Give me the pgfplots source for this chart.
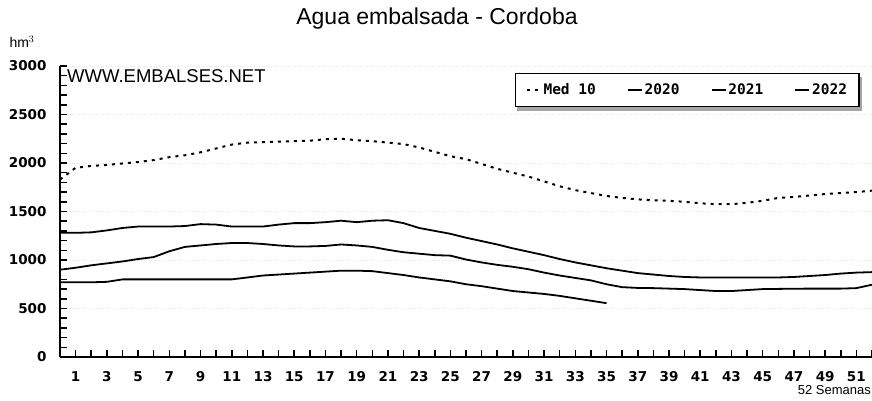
\documentclass[border=0pt]{standalone}
\usepackage{fontspec}
\setmainfont{Liberation Sans}
\newfontfamily\tickfont{DejaVu Sans}
\newfontfamily\legfont{DejaVu Sans Mono}
\usepackage{pgfplots}
\pgfplotsset{compat=1.18}
\pgfdeclarelayer{bg}
\pgfsetlayers{bg,main}

\pgfplotstableread{
w v
0 1830
1 1950
2 1970
3 1980
4 1995
5 2010
6 2030
7 2060
8 2080
9 2110
10 2150
11 2190
12 2210
13 2215
14 2220
15 2225
16 2230
17 2245
18 2250
19 2235
20 2225
21 2210
22 2195
23 2160
24 2115
25 2070
26 2040
27 1990
28 1940
29 1900
30 1860
31 1810
32 1760
33 1720
34 1690
35 1660
36 1640
37 1625
38 1615
39 1610
40 1600
41 1585
42 1575
43 1575
44 1590
45 1610
46 1640
47 1650
48 1665
49 1680
50 1690
51 1700
52 1715
}\medten

\pgfplotstableread{
w v
0 1280
1 1280
2 1285
3 1305
4 1330
5 1345
6 1345
7 1345
8 1350
9 1370
10 1365
11 1345
12 1345
13 1345
14 1365
15 1380
16 1380
17 1390
18 1405
19 1390
20 1405
21 1410
22 1380
23 1330
24 1300
25 1270
26 1230
27 1195
28 1160
29 1120
30 1085
31 1050
32 1010
33 975
34 945
35 915
36 890
37 865
38 850
39 835
40 825
41 820
42 820
43 820
44 820
45 820
46 820
47 825
48 835
49 845
50 860
51 870
52 875
}\yA

\pgfplotstableread{
w v
0 900
1 920
2 945
3 965
4 985
5 1010
6 1030
7 1090
8 1135
9 1150
10 1165
11 1175
12 1175
13 1165
14 1150
15 1140
16 1140
17 1145
18 1160
19 1150
20 1135
21 1105
22 1080
23 1065
24 1050
25 1045
26 1005
27 975
28 950
29 930
30 905
31 870
32 840
33 815
34 790
35 750
36 720
37 712
38 710
39 705
40 700
41 690
42 680
43 680
44 690
45 700
46 702
47 704
48 705
49 705
50 705
51 710
52 745
}\yB

\pgfplotstableread{
w v
0 770
1 770
2 770
3 775
4 800
5 800
6 800
7 800
8 800
9 800
10 800
11 800
12 820
13 840
14 850
15 860
16 870
17 880
18 890
19 890
20 885
21 865
22 845
23 820
24 800
25 780
26 750
27 730
28 705
29 680
30 665
31 650
32 630
33 605
34 580
35 555
}\yC

\begin{document}
\begin{tikzpicture}[x=1pt,y=1pt]
\useasboundingbox (0,0) rectangle (872,401);
\begin{axis}[
  at={(60pt,44pt)}, anchor=south west,
  scale only axis, width=812pt, height=291pt,
  xmin=0, xmax=52, ymin=0, ymax=3000,
  axis x line=bottom, axis y line=left,
  axis line style={-, line width=2pt},
  xtick={1,3,...,51}, minor xtick={2,4,...,52},
  ytick={0,500,...,3000}, minor ytick={100,200,...,2900},
  tick align=inside,
  major tick length=7pt, minor tick length=7pt,
  tick style={black, line width=1.5pt},
  ymajorgrids, grid style={gray!20, dotted, line width=0.8pt},
  scaled y ticks=false,
  /pgf/number format/assume math mode=true,
  /pgf/number format/1000 sep={},
  xticklabel style={font=\tickfont\bfseries\fontsize{13.5}{14}\selectfont, yshift=-11pt},
  yticklabel style={font=\tickfont\bfseries\fontsize{13.5}{14}\selectfont, xshift=-10pt},
  legend columns=-1,
  legend style={at={(rel axis cs:0.985,0.976)}, anchor=north east,
    name=leg,
    draw=black, line width=1.5pt, fill=white,
    font=\legfont\bfseries\fontsize{14.5}{15}\selectfont,
    inner xsep=10pt, inner ysep=8pt,
    /tikz/every even column/.append style={column sep=29pt}},
  legend image code/.code={\draw[#1] (0pt,0pt) -- (14pt,0pt);},
  clip=false,
]
\addplot[black, line width=2pt, dash pattern=on 3pt off 5pt] table[x=w,y=v] {\medten};
\addlegendentry{Med 10}
\addplot[black, line width=1.8pt] table[x=w,y=v] {\yA};
\addlegendentry{2020}
\addplot[black, line width=1.8pt] table[x=w,y=v] {\yB};
\addlegendentry{2021}
\addplot[black, line width=1.8pt] table[x=w,y=v] {\yC};
\addlegendentry{2022}
\node[anchor=base west, inner sep=0pt, font=\fontsize{18.5}{19}\selectfont] at (axis cs:0.45,2825) {WWW.EMBALSES.NET};
\end{axis}
\begin{pgfonlayer}{bg}
\fill[gray!70] ([xshift=2pt,yshift=-4pt]leg.south west) rectangle ([xshift=2pt,yshift=-4pt]leg.north east);
\end{pgfonlayer}
\node[font=\fontsize{23}{24}\selectfont] at (437,382) {Agua embalsada - Cordoba};
\node[font=\fontsize{14}{15}\selectfont] at (22,359) {hm$^3$};
\node[anchor=east, inner sep=0pt, font=\fontsize{13}{14}\selectfont] at (871,11) {52 Semanas};
\end{tikzpicture}
\end{document}
